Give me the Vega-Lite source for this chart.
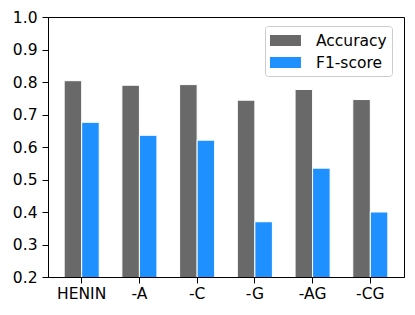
{
  "$schema": "https://vega.github.io/schema/vega-lite/v6.json",
  "autosize": "none",
  "width": 356,
  "height": 260,
  "padding": {"left": 48, "top": 17, "right": 11, "bottom": 38},
  "background": "white",
  "config": {
    "font": "DejaVu Sans",
    "view": {"stroke": "black", "strokeWidth": 1}
  },
  "data": {
    "values": [
      {"cat": "HENIN", "metric": "Accuracy", "value": 0.804},
      {"cat": "HENIN", "metric": "F1-score", "value": 0.676},
      {"cat": "-A", "metric": "Accuracy", "value": 0.790},
      {"cat": "-A", "metric": "F1-score", "value": 0.636},
      {"cat": "-C", "metric": "Accuracy", "value": 0.792},
      {"cat": "-C", "metric": "F1-score", "value": 0.621},
      {"cat": "-G", "metric": "Accuracy", "value": 0.744},
      {"cat": "-G", "metric": "F1-score", "value": 0.370},
      {"cat": "-AG", "metric": "Accuracy", "value": 0.777},
      {"cat": "-AG", "metric": "F1-score", "value": 0.535},
      {"cat": "-CG", "metric": "Accuracy", "value": 0.746},
      {"cat": "-CG", "metric": "F1-score", "value": 0.400}
    ]
  },
  "mark": {"type": "bar", "clip": true, "stroke": "white", "strokeWidth": 1},
  "encoding": {
    "x": {
      "field": "cat",
      "type": "nominal",
      "sort": ["HENIN", "-A", "-C", "-G", "-AG", "-CG"],
      "scale": {"paddingInner": 0.393, "paddingOuter": 0.28},
      "axis": {
        "title": null,
        "labelAngle": 0,
        "labelFontSize": 15.5,
        "labelColor": "black",
        "labelPadding": 3,
        "tickSize": 6,
        "tickColor": "black",
        "domainColor": "black",
        "grid": false
      }
    },
    "xOffset": {
      "field": "metric",
      "type": "nominal",
      "scale": {"paddingInner": 0, "paddingOuter": 0}
    },
    "y": {
      "field": "value",
      "type": "quantitative",
      "scale": {"domain": [0.2, 1.0], "zero": false, "nice": false},
      "axis": {
        "title": null,
        "values": [0.2, 0.3, 0.4, 0.5, 0.6, 0.7, 0.8, 0.9, 1.0],
        "format": ".1f",
        "labelFontSize": 15.5,
        "labelColor": "black",
        "labelPadding": 5,
        "tickSize": 6,
        "tickColor": "black",
        "domainColor": "black",
        "grid": false
      }
    },
    "color": {
      "field": "metric",
      "type": "nominal",
      "scale": {"domain": ["Accuracy", "F1-score"], "range": ["#696969", "#1E90FF"]},
      "legend": {
        "title": null,
        "orient": "none",
        "legendX": 217,
        "legendY": 9,
        "padding": 5,
        "fillColor": "white",
        "strokeColor": "#cccccc",
        "cornerRadius": 3,
        "labelFontSize": 15.5,
        "labelColor": "black",
        "labelOffset": 27,
        "rowPadding": 4,
        "symbolType": "M-1,-0.58L2.26,-0.58L2.26,0.58L-1,0.58Z",
        "symbolSize": 361,
        "symbolStrokeWidth": 0,
        "symbolOpacity": 1
      }
    }
  }
}
